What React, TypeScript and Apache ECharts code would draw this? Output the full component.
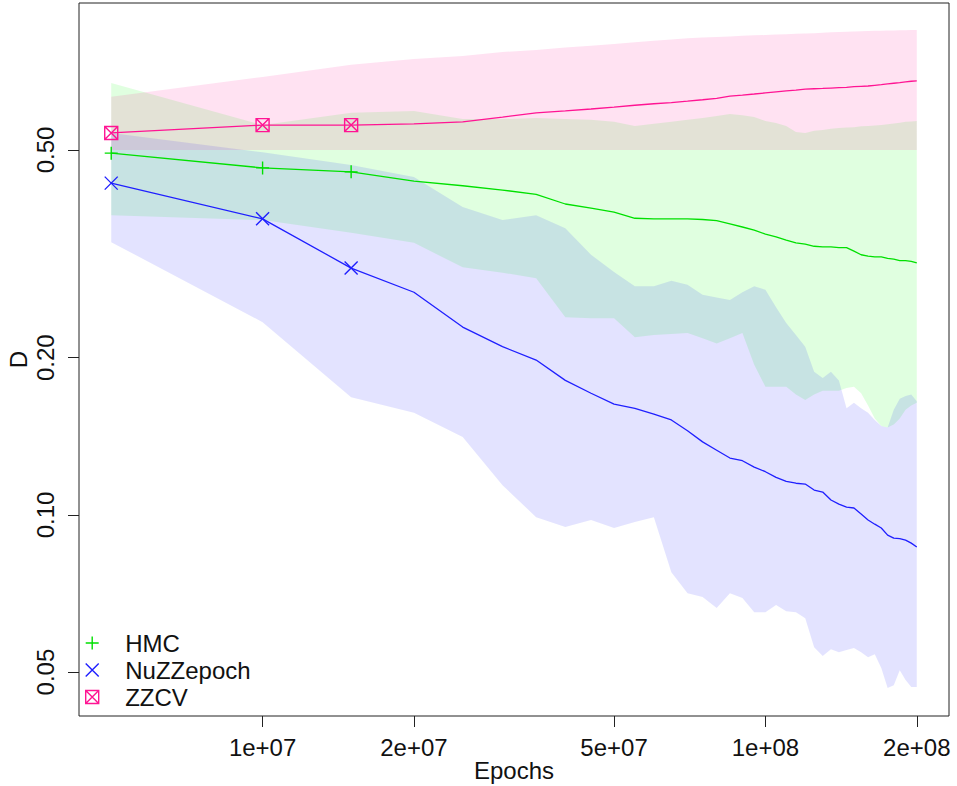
import React, { useEffect, useRef } from "react";
import * as echarts from "echarts";

// ---- data ----
const EPOCHS = [
  5e6, 1e7, 1.5e7, 2e7, 2.5e7, 3e7, 3.5e7, 4e7, 4.5e7, 5e7,
  5.5e7, 6e7, 6.5e7, 7e7, 7.5e7, 8e7, 8.5e7, 9e7, 9.5e7, 1e8,
  1.05e8, 1.1e8, 1.15e8, 1.2e8, 1.25e8, 1.3e8, 1.35e8, 1.4e8, 1.45e8, 1.5e8,
  1.55e8, 1.6e8, 1.65e8, 1.7e8, 1.75e8, 1.8e8, 1.85e8, 1.9e8, 1.95e8, 2e8,
];
const MARKER_EPOCHS = [5e6, 1e7, 1.5e7];

const HMC_MEAN = [
  0.493, 0.462, 0.454, 0.436, 0.427, 0.419, 0.411, 0.394, 0.387, 0.380,
  0.370, 0.369, 0.369, 0.369, 0.368, 0.366, 0.361, 0.356, 0.351, 0.345,
  0.341, 0.336, 0.332, 0.330, 0.327, 0.326, 0.326, 0.325, 0.325, 0.320,
  0.315, 0.313, 0.312, 0.312, 0.310, 0.309, 0.307, 0.307, 0.306, 0.304,
];
const HMC_UPPER = [
  0.672, 0.558, 0.589, 0.594, 0.573, 0.573, 0.576, 0.573, 0.571, 0.566,
  0.556, 0.561, 0.566, 0.571, 0.576, 0.581, 0.586, 0.583, 0.578, 0.568,
  0.563, 0.556, 0.541, 0.539, 0.544, 0.546, 0.549, 0.551, 0.552, 0.553,
  0.555, 0.556, 0.557, 0.558, 0.560, 0.562, 0.564, 0.566, 0.567, 0.568,
];
const HMC_LOWER = [
  0.375, 0.367, 0.347, 0.332, 0.298, 0.291, 0.284, 0.239, 0.238, 0.238,
  0.219, 0.221, 0.222, 0.223, 0.218, 0.213, 0.218, 0.223, 0.194, 0.176,
  0.176, 0.176, 0.170, 0.166, 0.170, 0.173, 0.173, 0.173, 0.175, 0.176,
  0.171, 0.162, 0.153, 0.148, 0.147, 0.149, 0.153, 0.159, 0.162, 0.164,
];

const NUZZ_MEAN = [
  0.432, 0.369, 0.297, 0.267, 0.229, 0.210, 0.198, 0.181, 0.171, 0.163,
  0.160, 0.156, 0.152, 0.145, 0.138, 0.133, 0.1285, 0.127, 0.1235, 0.121,
  0.118, 0.116, 0.115, 0.1146, 0.1116, 0.1106, 0.1068, 0.1049, 0.1035, 0.1031,
  0.1004, 0.0978, 0.0960, 0.0944, 0.0915, 0.0903, 0.0901, 0.0895, 0.0883, 0.0868,
];
const NUZZ_UPPER = [
  0.539, 0.495, 0.468, 0.444, 0.389, 0.367, 0.375, 0.354, 0.315, 0.292,
  0.274, 0.274, 0.281, 0.276, 0.264, 0.261, 0.258, 0.267, 0.274, 0.270,
  0.250, 0.233, 0.221, 0.210, 0.188, 0.183, 0.188, 0.181, 0.160, 0.164,
  0.160, 0.157, 0.152, 0.148, 0.147, 0.159, 0.167, 0.169, 0.170, 0.165,
];
const NUZZ_LOWER = [
  0.333, 0.234, 0.168, 0.157, 0.141, 0.114, 0.099, 0.0948, 0.0978, 0.0944,
  0.0969, 0.099, 0.0777, 0.0708, 0.0696, 0.0663, 0.0708, 0.0693, 0.0651, 0.0651,
  0.0672, 0.0654, 0.0651, 0.0634, 0.0558, 0.0537, 0.0553, 0.0546, 0.0551, 0.0556,
  0.0546, 0.0534, 0.0541, 0.0509, 0.0466, 0.0472, 0.0504, 0.0483, 0.0468, 0.0468,
];

const ZZCV_MEAN = [
  0.539, 0.558, 0.558, 0.561, 0.566, 0.578, 0.589, 0.594, 0.599, 0.604,
  0.609, 0.613, 0.616, 0.620, 0.624, 0.628, 0.634, 0.637, 0.640, 0.643,
  0.646, 0.649, 0.651, 0.654, 0.655, 0.656, 0.657, 0.658, 0.659, 0.661,
  0.662, 0.663, 0.665, 0.667, 0.669, 0.671, 0.673, 0.675, 0.677, 0.678,
];
const ZZCV_UPPER = [
  0.632, 0.690, 0.728, 0.747, 0.757, 0.770, 0.777, 0.786, 0.792, 0.798,
  0.804, 0.809, 0.814, 0.818, 0.821, 0.823, 0.825, 0.827, 0.829, 0.830,
  0.832, 0.833, 0.835, 0.836, 0.837, 0.838, 0.840, 0.841, 0.842, 0.843,
  0.844, 0.845, 0.846, 0.846, 0.847, 0.847, 0.848, 0.848, 0.849, 0.849,
];
const ZZCV_LOWER = [
  0.5, 0.5, 0.5, 0.5, 0.5, 0.5, 0.5, 0.5, 0.5, 0.5,
  0.5, 0.5, 0.5, 0.5, 0.5, 0.5, 0.5, 0.5, 0.5, 0.5,
  0.5, 0.5, 0.5, 0.5, 0.5, 0.5, 0.5, 0.5, 0.5, 0.5,
  0.5, 0.5, 0.5, 0.5, 0.5, 0.5, 0.5, 0.5, 0.5, 0.5,
];

const X_TICKS = [1e7, 2e7, 5e7, 1e8, 2e8];
const X_TICK_LABELS = ["1e+07", "2e+07", "5e+07", "1e+08", "2e+08"];
const Y_TICKS = [0.05, 0.1, 0.2, 0.5];
const Y_TICK_LABELS = ["0.05", "0.10", "0.20", "0.50"];
const Y_RANGE = [0.0412, 0.956];

// ---- styling ----
const HMC_COLOR = "#00e000";
const NUZZ_COLOR = "#1f1fff";
const ZZCV_COLOR = "#ff1493";
const HMC_BAND = "rgba(0,255,0,0.12)";
const NUZZ_BAND = "rgba(0,0,255,0.11)";
const ZZCV_BAND = "rgba(255,20,147,0.12)";
const FONT = "Liberation Sans, Arial, Helvetica, sans-serif";

const PLUS = "path://M0,7L14,7M7,0L7,14";
const CROSS = "path://M0,0L14,14M14,0L0,14";
const BOXX = "path://M0,0L14,0L14,14L0,14ZM0,0L14,14M14,0L0,14";

const lg = (v: number) => Math.log10(v);

function labelFor(ticks: number[], labels: string[]) {
  return (v: number) => {
    for (let i = 0; i < ticks.length; i++) {
      if (Math.abs(lg(ticks[i]) - v) < 1e-6) return labels[i];
    }
    return "";
  };
}

function bandSeries(lo: number[], hi: number[], color: string) {
  const pts = EPOCHS.map((e, i) => [lg(e), lg(lo[i]), lg(hi[i])]);
  return {
    type: "custom",
    silent: true,
    data: pts,
    encode: { x: 0, y: [1, 2] },
    renderItem: (params: any, api: any) => {
      if (params.dataIndex !== 0) return { type: "group", children: [] };
      const upper = pts.map((p) => api.coord([p[0], p[2]]));
      const lower = pts.map((p) => api.coord([p[0], p[1]])).reverse();
      return {
        type: "polygon",
        shape: { points: upper.concat(lower) },
        style: { fill: color, stroke: null },
      };
    },
  };
}

function lineSeries(vals: number[], color: string) {
  return {
    type: "line",
    silent: true,
    data: EPOCHS.map((e, i) => [lg(e), lg(vals[i])]),
    showSymbol: false,
    symbol: "none",
    lineStyle: { color, width: 1.3 },
    itemStyle: { color },
  };
}

function markerSeries(name: string, vals: number[], color: string, symbol: string) {
  const data = MARKER_EPOCHS.map((e) => {
    const i = EPOCHS.indexOf(e);
    return [lg(e), lg(vals[i])];
  });
  return {
    type: "scatter",
    name,
    silent: true,
    data,
    symbol,
    symbolSize: 13,
    itemStyle: { color: "rgba(0,0,0,0)", borderColor: color, borderWidth: 1.4, opacity: 1 },
  };
}

export default function App() {
  const ref = useRef<HTMLDivElement>(null);

  useEffect(() => {
    if (!ref.current) return;
    const chart = echarts.init(ref.current, undefined, { renderer: "svg" });
    const xl0 = lg(EPOCHS[0]);
    const xl1 = lg(EPOCHS[EPOCHS.length - 1]);
    const pad = 0.04 * (xl1 - xl0);

    chart.setOption({
      animation: false,
      backgroundColor: "#ffffff",
      grid: {
        left: 79,
        top: 3,
        width: 870,
        height: 713,
        show: true,
        borderColor: "#222",
        borderWidth: 1,
        backgroundColor: "transparent",
        containLabel: false,
        outerBoundsMode: "none",
      },
      xAxis: {
        type: "value",
        min: xl0 - pad,
        max: xl1 + pad,
        name: "Epochs",
        nameLocation: "middle",
        nameGap: 42,
        nameMoveOverlap: false,
        nameTextStyle: { fontSize: 24, fontFamily: FONT, color: "#111", lineHeight: 24 },
        axisLine: { show: false },
        splitLine: { show: false },
        axisTick: {
          show: true,
          inside: false,
          length: 11,
          lineStyle: { color: "#222", width: 1 },
          customValues: X_TICKS.map(lg),
        },
        axisLabel: {
          show: true,
          margin: 19,
          fontSize: 24,
          fontFamily: FONT,
          color: "#111",
          customValues: X_TICKS.map(lg),
          formatter: labelFor(X_TICKS, X_TICK_LABELS),
        },
      },
      yAxis: {
        type: "value",
        min: lg(Y_RANGE[0]),
        max: lg(Y_RANGE[1]),
        name: "D",
        nameLocation: "middle",
        nameGap: 49,
        nameRotate: 90,
        nameMoveOverlap: false,
        nameTextStyle: { fontSize: 24, fontFamily: FONT, color: "#111" },
        axisLine: { show: false },
        splitLine: { show: false },
        axisTick: {
          show: true,
          inside: false,
          length: 11,
          lineStyle: { color: "#222", width: 1 },
          customValues: Y_TICKS.map(lg),
        },
        axisLabel: {
          show: true,
          rotate: 90,
          margin: 22,
          fontSize: 24,
          fontFamily: FONT,
          color: "#111",
          customValues: Y_TICKS.map(lg),
          formatter: labelFor(Y_TICKS, Y_TICK_LABELS),
        },
      },
      legend: {
        orient: "vertical",
        left: 80,
        top: 626,
        itemWidth: 40,
        itemHeight: 13,
        itemGap: 3,
        selectedMode: false,
        textStyle: { fontSize: 24, fontFamily: FONT, color: "#111", padding: [0, 0, 0, 8] },
        data: [
          { name: "HMC", icon: PLUS, itemStyle: { color: "rgba(0,0,0,0)", borderColor: HMC_COLOR, borderWidth: 1.4 } },
          { name: "NuZZepoch", icon: CROSS, itemStyle: { color: "rgba(0,0,0,0)", borderColor: NUZZ_COLOR, borderWidth: 1.4 } },
          { name: "ZZCV", icon: BOXX, itemStyle: { color: "rgba(0,0,0,0)", borderColor: ZZCV_COLOR, borderWidth: 1.4 } },
        ],
      },
      series: [
        bandSeries(HMC_LOWER, HMC_UPPER, HMC_BAND),
        bandSeries(NUZZ_LOWER, NUZZ_UPPER, NUZZ_BAND),
        bandSeries(ZZCV_LOWER, ZZCV_UPPER, ZZCV_BAND),
        lineSeries(HMC_MEAN, HMC_COLOR),
        lineSeries(NUZZ_MEAN, NUZZ_COLOR),
        lineSeries(ZZCV_MEAN, ZZCV_COLOR),
        markerSeries("HMC", HMC_MEAN, HMC_COLOR, PLUS),
        markerSeries("NuZZepoch", NUZZ_MEAN, NUZZ_COLOR, CROSS),
        markerSeries("ZZCV", ZZCV_MEAN, ZZCV_COLOR, BOXX),
      ],
    });
    return () => chart.dispose();
  }, []);

  return (
    <div
      ref={ref}
      style={{ position: "fixed", left: 0, top: 0, width: 957, height: 786, background: "#fff" }}
    />
  );
}
